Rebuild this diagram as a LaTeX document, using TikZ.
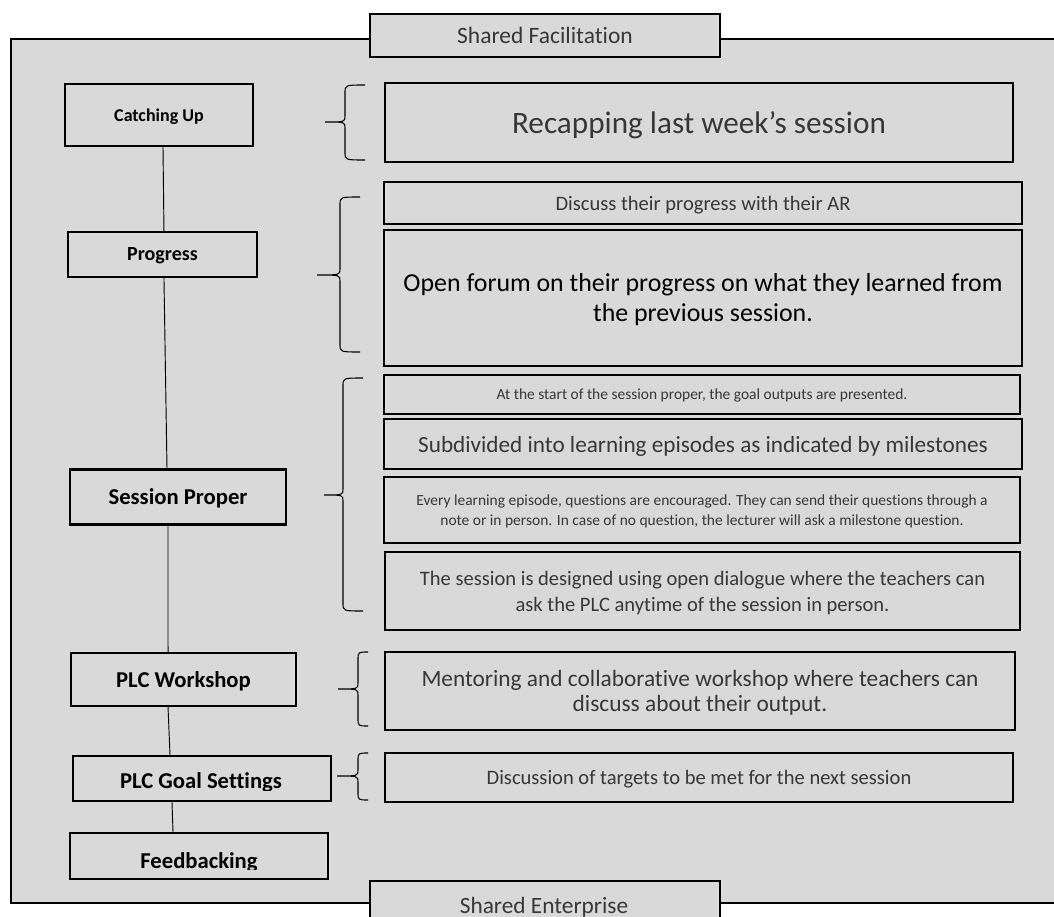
\documentclass[tikz,border=0pt]{standalone}
\usepackage{fontspec}
\setmainfont{Carlito}[Ligatures=NoCommon]
\definecolor{bg}{RGB}{217,217,217}
\definecolor{tx}{RGB}{55,55,55}
\newcommand\curlyb[6]{% right x, spine x, tip x, top y, bottom y, tip y
  \draw[brc] (#1,#4) .. controls (#2,#4) .. (#2,#4+8) -- (#2,#6-6)
    .. controls (#2,#6) .. (#3,#6) .. controls (#2,#6) .. (#2,#6+6)
    -- (#2,#5-8) .. controls (#2,#5) .. (#1,#5);}
\begin{document}
\begin{tikzpicture}[x=0.75pt,y=-0.75pt,
  frame/.style={draw=black,line width=1.5pt,fill=bg},
  box/.style={draw=black,line width=1.6pt,fill=bg,inner sep=0pt,align=center,text=tx,text depth=0pt},
  lbox/.style={box,text=black},
  sz/.style 2 args={minimum width=#1*0.75pt,minimum height=#2*0.75pt},
  conn/.style={draw=black,line width=0.7pt},
  brc/.style={draw=black,line width=0.8pt},
  fs/.style 2 args={font=\fontsize{#1}{#2}\selectfont},
  bfs/.style 2 args={font=\bfseries\fontsize{#1}{#2}\selectfont}]
\useasboundingbox (0,0) rectangle (1054,917);
\fill[white] (0,0) rectangle (1054,917);
% outer frame
\draw[frame] (11,39) rectangle (1070,903);
\node[box,sz={350}{43},fs={17.6}{20}] (fac) at (545,35.5) {Shared Facilitation};
\node[box,sz={350}{60},fs={17.5}{20}] (ent) at (545,911) {};
\node[text=tx,fs={17.5}{20},anchor=base] (entt) at (544,913) {Shared Enterprise};
% left column
\node[lbox,sz={188}{62},bfs={13.5}{16}] (cu) at (159,115) {Catching Up};
\node[lbox,sz={189}{45},bfs={15}{18}] (pr) at (162.5,254.5) {Progress};
\node[lbox,sz={216}{55},bfs={17}{20}] (sp) at (178,497) {Session Proper};
\node[lbox,sz={225}{53},bfs={17}{20}] (ws) at (183.5,679.5) {PLC Workshop};
\node[lbox,sz={258}{45}] (gs) at (202,778.5) {};
\begin{scope}
  \clip (74,757) rectangle (330,790);
  \node[anchor=base,bfs={17}{20}] (gst) at (201,788) {PLC Goal Settings};
\end{scope}
\node[lbox,sz={258}{46}] (fb) at (199,856) {};
\begin{scope}
  \clip (71,834) rectangle (327,869);
  \node[anchor=base,bfs={17}{20}] (fbt) at (199,868) {Feedbacking};
\end{scope}
% connectors
\draw[conn] ([xshift=3pt]cu.south) -- ([xshift=1.1pt]pr.north);
\draw[conn] ([xshift=1.1pt]pr.south) -- ([xshift=-8.25pt]sp.north);
\draw[conn] ([xshift=-7.5pt]sp.south) -- ([xshift=-11.6pt]ws.north);
\draw[conn] ([xshift=-11.6pt]ws.south) -- ([xshift=-24pt]gs.north);
\draw[conn] ([xshift=-22.5pt]gs.south) -- ([xshift=-19.5pt]fb.north);
% right column
\node[box,sz={628}{79},fs={23.4}{27}] (rc) at (699,122.5) {Recapping last week’s session};
\node[box,sz={638}{42},fs={15.4}{18}] (dp) at (703,203) {Discuss their progress with their AR};
\node[box,sz={638}{136},fs={19.4}{22.5},text=black] (of) at (703,298) {Open forum on their progress on what they learned from\\the previous session.};
\node[box,sz={636}{39},fs={11.6}{13}] (as) at (702,394.5) {At the start of the session proper, the goal outputs are presented.};
\node[box,sz={638}{50},fs={17.4}{20}] (sd) at (703,444) {Subdivided into learning episodes as indicated by milestones};
\node[box,sz={636}{66},fs={11.6}{15}] (el) at (702,510) {Every learning episode, questions are encouraged. They can send their questions through a\\note or in person. In case of no question, the lecturer will ask a milestone question.};
\node[box,sz={635}{78},fs={15.4}{19.5}] (sd2) at (702.5,591) {The session is designed using open dialogue where the teachers can\\ask the PLC anytime of the session in person.};
\node[box,sz={630}{78},fs={17.5}{18.8}] (mw) at (700,691) {Mentoring and collaborative workshop where teachers can\\discuss about their output.};
\node[box,sz={628}{49},fs={15.4}{18}] (dt) at (699,777.5) {Discussion of targets to be met for the next session};
% braces
\curlyb{365}{345}{325}{85}{160}{122}
\curlyb{360}{340}{317}{197}{352}{275}
\curlyb{363}{343}{324}{378}{611}{495}
\curlyb{368}{358}{338}{652}{726}{689}
\curlyb{368}{358}{337}{753}{800}{776}
\end{tikzpicture}
\end{document}
